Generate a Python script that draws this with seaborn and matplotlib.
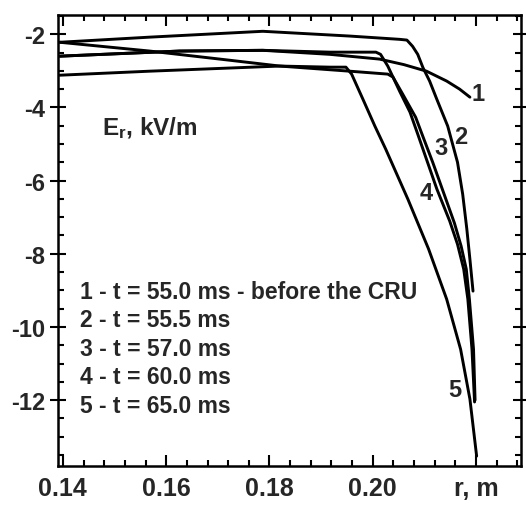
import numpy as np
import pandas as pd
import matplotlib
matplotlib.use("Agg")
import matplotlib.pyplot as plt
from matplotlib.ticker import MultipleLocator, FixedLocator
import seaborn as sns

# radial profiles of E_r
r1 = [0.1394, 0.1626, 0.1787, 0.1917, 0.2013, 0.2060, 0.2104, 0.2143, 0.2168, 0.2188]
e1 = [-2.60, -2.46, -2.44, -2.55, -2.68, -2.83, -3.01, -3.28, -3.50, -3.72]

r2 = [0.1394, 0.1568, 0.1787, 0.1955, 0.2052, 0.2066, 0.2077, 0.2087, 0.2097,
      0.2110, 0.2124, 0.2145, 0.2164, 0.2174, 0.2182, 0.2188, 0.2194]
e2 = [-2.22, -2.08, -1.92, -2.05, -2.14, -2.16, -2.33, -2.55, -2.91,
      -3.28, -3.78, -4.51, -5.50, -6.37, -7.32, -8.15, -9.02]

r3 = [0.1394, 0.1626, 0.1787, 0.1917, 0.2006, 0.2015, 0.2029, 0.2052, 0.2072,
      0.2087, 0.2104, 0.2124, 0.2149, 0.2164, 0.2176, 0.2184, 0.2192, 0.2197]
e3 = [-2.60, -2.46, -2.44, -2.49, -2.49, -2.55, -2.87, -3.56, -4.13,
      -4.73, -5.42, -6.23, -7.11, -7.74, -8.42, -9.24, -10.61, -12.05]

r4 = [0.1394, 0.1568, 0.1704, 0.1820, 0.1955, 0.2029, 0.2039, 0.2058, 0.2083,
      0.2099, 0.2116, 0.2136, 0.2158, 0.2171, 0.2181, 0.2187, 0.2195, 0.2198]
e4 = [-2.22, -2.46, -2.68, -2.87, -3.01, -3.09, -3.17, -3.64, -4.27,
      -4.87, -5.50, -6.29, -7.16, -7.79, -8.42, -9.24, -10.61, -12.00]

r5 = [0.1394, 0.1568, 0.1820, 0.1917, 0.1948, 0.1959, 0.1981, 0.2004, 0.2025,
      0.2068, 0.2108, 0.2143, 0.2170, 0.2188, 0.2201]
e5 = [-3.12, -3.01, -2.87, -2.90, -2.90, -3.09, -3.78, -4.51, -5.14,
      -6.51, -7.87, -9.24, -10.61, -11.97, -13.53]

curve_ids = ["1", "2", "3", "4", "5"]
legend_lines = ["1 - t = 55.0 ms - before the CRU",
                "2 - t = 55.5 ms",
                "3 - t = 57.0 ms",
                "4 - t = 60.0 ms",
                "5 - t = 65.0 ms"]
# where the curve numbers sit
label_r = [0.2204, 0.2170, 0.2132, 0.2104, 0.2159]
label_e = [-3.62, -4.79, -5.09, -6.32, -11.70]

x_ticks = [0.14, 0.16, 0.18, 0.20, 0.22]
x_ticklabels = ["0.14", "0.16", "0.18", "0.20", "r, m"]
y_ticks = [-2, -4, -6, -8, -10, -12]

sns.set_theme(style="ticks")
plt.rcParams["font.family"] = ["Liberation Sans", "DejaVu Sans"]
plt.rcParams["font.weight"] = "bold"
plt.rcParams["axes.unicode_minus"] = False
plt.rcParams["mathtext.fontset"] = "custom"
plt.rcParams["mathtext.bf"] = "Liberation Sans:bold"
plt.rcParams["mathtext.rm"] = "Liberation Sans:bold"
plt.rcParams["mathtext.default"] = "bf"

frames = []
for cid, rr, ee in zip(curve_ids, [r1, r2, r3, r4, r5], [e1, e2, e3, e4, e5]):
    frames.append(pd.DataFrame({"r": rr, "E": ee, "curve": cid}))
df = pd.concat(frames, ignore_index=True)

fig = plt.figure(figsize=(5.26, 5.06), dpi=100)
ax = fig.add_axes([0.110, 0.077, 0.880, 0.891])

sns.lineplot(data=df, x="r", y="E", hue="curve", units="curve", estimator=None,
             sort=False, palette=["black"] * 5, linewidth=2.1, legend=False, ax=ax)

ax.set_xlim(0.13903, 0.22864)
ax.set_ylim(-13.80, -1.48)
ax.set_xlabel("")
ax.set_ylabel("")

ax.xaxis.set_major_locator(FixedLocator(x_ticks))
ax.set_xticklabels(x_ticklabels)
ax.xaxis.set_minor_locator(MultipleLocator(0.004))
ax.yaxis.set_major_locator(FixedLocator(y_ticks))
ax.yaxis.set_minor_locator(MultipleLocator(0.5))

ax.tick_params(which="both", top=True, right=True, color="black", width=1.5)
ax.tick_params(axis="x", which="major", direction="in", length=8, pad=7, labelsize=18)
ax.tick_params(axis="y", which="major", direction="inout", length=12, pad=3, labelsize=17)
ax.tick_params(which="minor", direction="in", length=4.5)
for lab in ax.get_xticklabels() + ax.get_yticklabels():
    lab.set_fontweight("bold")

for s in ax.spines.values():
    s.set_linewidth(1.8)
    s.set_color("black")

ax.text(0.1475, -4.54, r"E$_{r}$, kV/m", fontsize=17.5, fontweight="bold",
        ha="left", va="center")

for i, line in enumerate(legend_lines):
    ax.text(0.1433, -9.02 - i * 0.78, line, fontsize=16.5, fontweight="bold",
            ha="left", va="center")

for cid, lr, le in zip(curve_ids, label_r, label_e):
    ax.text(lr, le, cid, fontsize=17, fontweight="bold", ha="center", va="center")

fig.savefig("out.png", dpi=100)
